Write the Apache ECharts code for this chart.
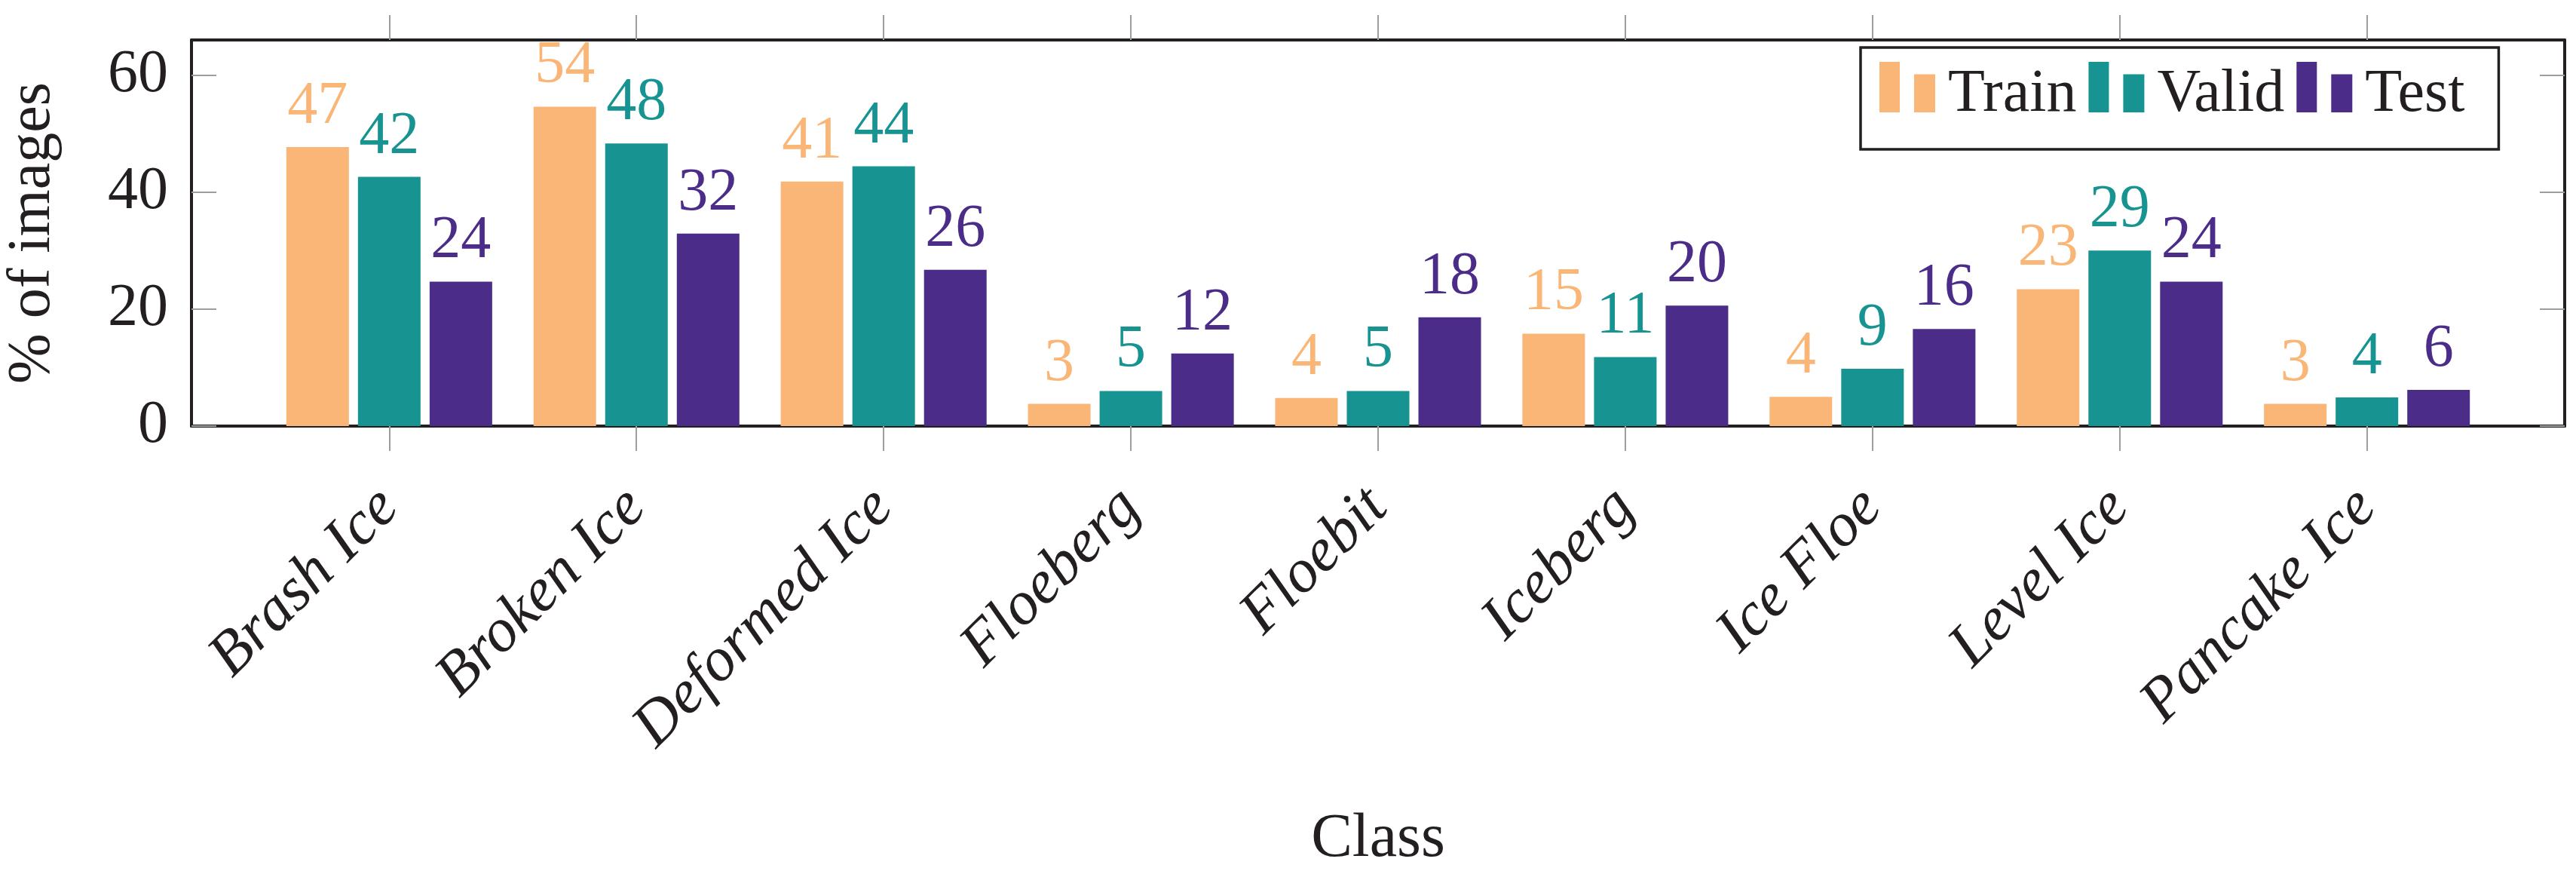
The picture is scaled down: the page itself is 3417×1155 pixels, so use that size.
<!DOCTYPE html>
<html>
<head>
<meta charset="utf-8">
<script src="https://cdn.jsdelivr.net/npm/echarts@6/dist/echarts.min.js"></script>
<style>
html,body{margin:0;padding:0;background:#fff;}
#chart{width:3417px;height:1155px;}
</style>
</head>
<body>
<div id="chart"></div>
<script>
// ---- data ----
const categories = ['Brash Ice', 'Broken Ice', 'Deformed Ice', 'Floeberg', 'Floebit', 'Iceberg', 'Ice Floe', 'Level Ice', 'Pancake Ice'];
const seriesNames = ['Train', 'Valid', 'Test'];
const trainValues = [47.7, 54.6, 41.8, 3.8, 4.8, 15.8, 5.0, 23.4, 3.8];
const validValues = [42.6, 48.3, 44.4, 6.0, 6.0, 11.8, 9.8, 30.0, 4.9];
const testValues  = [24.7, 32.9, 26.7, 12.4, 18.6, 20.6, 16.6, 24.7, 6.2];
const trainLabels = [47, 54, 41, 3, 4, 15, 4, 23, 3];
const validLabels = [42, 48, 44, 5, 5, 11, 9, 29, 4];
const testLabels  = [24, 32, 26, 12, 18, 20, 16, 24, 6];
const yTicks = [0, 20, 40, 60];
const xTicks = categories.map((c, i) => i);

// ---- styles ----
const FONT = "'Liberation Serif', 'Times New Roman', serif";
const INK = '#231f20';
const TICK = '#9d9d9d';
const colors = ['#fab677', '#179491', '#4b2d89'];
const legendIcon = 'path://M0,0L27,0L27,67L0,67Z M46,16.5L74,16.5L74,67L46,67Z M86,87';

const chart = echarts.init(document.getElementById('chart'), null, {renderer: 'canvas'});

function makeSeries(name, values, labels, color) {
  return {
    name: name,
    type: 'bar',
    xAxisIndex: 0,
    yAxisIndex: 0,
    data: values.map((v, i) => [i, v]),
    barWidth: 83,
    barGap: '14.5%',
    itemStyle: {color: color},
    label: {
      show: true,
      position: 'top',
      distance: 13,
      color: color,
      fontFamily: FONT,
      fontStyle: 'normal',
      fontWeight: 'normal',
      fontSize: 80,
      formatter: p => String(labels[p.dataIndex])
    },
    emphasis: {disabled: true}
  };
}

const option = {
  animation: false,
  backgroundColor: '#ffffff',
  textStyle: {fontFamily: FONT},
  grid: {left: 254, right: 15, top: 53, bottom: 590, containLabel: false, outerBoundsMode: 'none'},
  legend: {
    left: 2468,
    top: 63,
    orient: 'horizontal',
    itemWidth: 86,
    itemHeight: 87,
    itemGap: 16,
    padding: [19, 45, 29, 25],
    borderColor: INK,
    borderWidth: 3.5,
    borderRadius: 0,
    backgroundColor: '#ffffff',
    selectedMode: false,
    textStyle: {fontFamily: FONT, fontSize: 80, color: INK},
    data: seriesNames.map(n => ({name: n, icon: legendIcon}))
  },
  xAxis: [
    {
      type: 'value',
      position: 'bottom',
      min: -0.8,
      max: 8.8,
      axisLine: {show: true, onZero: false, lineStyle: {color: INK, width: 4}},
      axisTick: {show: true, inside: false, length: 33, customValues: xTicks, lineStyle: {color: TICK, width: 2}},
      axisLabel: {
        show: true,
        customValues: xTicks,
        formatter: v => categories[Math.round(v)],
        rotate: 45,
        margin: 96,
        hideOverlap: false,
        fontFamily: FONT,
        fontStyle: 'italic',
        fontWeight: 'normal',
        fontSize: 82,
        color: INK
      },
      splitLine: {show: false},
      name: 'Class',
      nameLocation: 'middle',
      nameGap: 507,
      nameMoveOverlap: false,
      nameTextStyle: {fontFamily: FONT, fontSize: 82, color: INK}
    },
    {
      type: 'value',
      position: 'top',
      min: -0.8,
      max: 8.8,
      axisLine: {show: true, onZero: false, lineStyle: {color: INK, width: 4}},
      axisTick: {show: true, inside: false, length: 33, customValues: xTicks, lineStyle: {color: TICK, width: 2}},
      axisLabel: {show: false},
      splitLine: {show: false}
    }
  ],
  yAxis: [
    {
      type: 'value',
      position: 'left',
      min: 0,
      max: 66,
      axisLine: {show: true, onZero: false, lineStyle: {color: INK, width: 4}},
      axisTick: {show: true, inside: true, length: 33, customValues: yTicks, lineStyle: {color: TICK, width: 2}},
      axisLabel: {show: true, customValues: yTicks, margin: 31, fontFamily: FONT, fontSize: 80, color: INK},
      splitLine: {show: false},
      name: '% of images',
      nameLocation: 'middle',
      nameGap: 170,
      nameMoveOverlap: false,
      nameTextStyle: {fontFamily: FONT, fontSize: 80, color: INK}
    },
    {
      type: 'value',
      position: 'right',
      min: 0,
      max: 66,
      axisLine: {show: true, onZero: false, lineStyle: {color: INK, width: 4}},
      axisTick: {show: true, inside: true, length: 33, customValues: yTicks, lineStyle: {color: TICK, width: 2}},
      axisLabel: {show: false},
      splitLine: {show: false}
    }
  ],
  series: [
    makeSeries(seriesNames[0], trainValues, trainLabels, colors[0]),
    makeSeries(seriesNames[1], validValues, validLabels, colors[1]),
    makeSeries(seriesNames[2], testValues, testLabels, colors[2])
  ]
};
chart.setOption(option);
</script>
</body>
</html>
